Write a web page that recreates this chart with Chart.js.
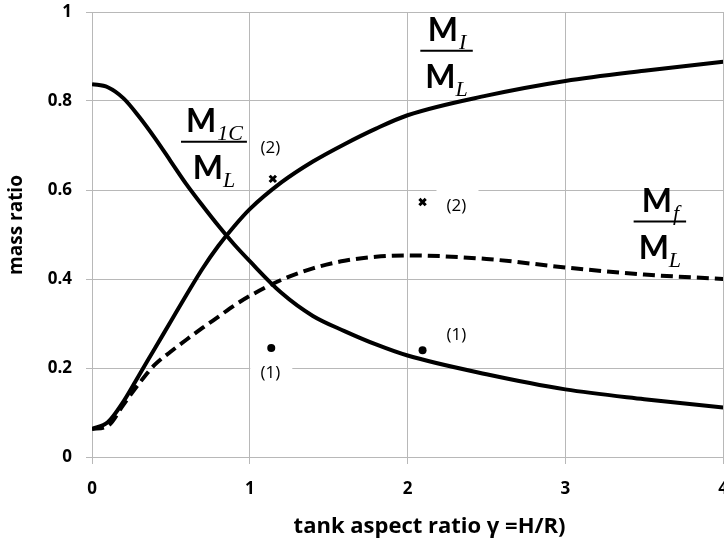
<!DOCTYPE html>
<html>
<head>
<meta charset="utf-8">
<script src="https://cdn.jsdelivr.net/npm/chart.js@4/dist/chart.umd.min.js"></script>
<style>
  html, body { margin: 0; padding: 0; overflow: hidden; background: #fff; }
  #wrap { position: relative; width: 743px; height: 542px; }
</style>
</head>
<body>
<div id="wrap"><canvas id="c"></canvas></div>
<script>
// ---- data ----
const gamma = [0, 0.1, 0.2, 0.3, 0.4, 0.5, 0.6, 0.7, 0.8, 0.9, 1.0, 1.2, 1.4, 1.6, 1.8, 2.0, 2.5, 3.0, 3.5, 4.0];
const ratioI  = [0.063, 0.078, 0.125, 0.185, 0.245, 0.305, 0.365, 0.423, 0.474, 0.518, 0.557, 0.617, 0.664, 0.703, 0.738, 0.768, 0.812, 0.845, 0.868, 0.888];
const ratio1C = [0.838, 0.831, 0.806, 0.764, 0.716, 0.664, 0.612, 0.565, 0.520, 0.478, 0.440, 0.369, 0.317, 0.283, 0.253, 0.228, 0.186, 0.152, 0.130, 0.111];
const ratioF  = [0.063, 0.070, 0.118, 0.166, 0.208, 0.237, 0.264, 0.290, 0.315, 0.340, 0.362, 0.398, 0.424, 0.441, 0.450, 0.453, 0.445, 0.426, 0.410, 0.400];
const crossX = [1.146, 2.095];
const crossY = [0.625, 0.573];
const dotX = [1.136, 2.095];
const dotY = [0.245, 0.240];
const xTickLabels = ['0', '1', '2', '3', '4'];
const yTickLabels = ['0', '0.2', '0.4', '0.6', '0.8', '1'];
const xTitle = '\u2003\u2003tank aspect ratio γ =H/R)';
const yTitle = '\u2003mass ratio';
// point labels: text and anchor in data units
const pointLabels = [
  { text: '(2)', x: 1.13, y: 0.694 },
  { text: '(2)', x: 2.31, y: 0.564 },
  { text: '(1)', x: 1.13, y: 0.189 },
  { text: '(1)', x: 2.31, y: 0.274 }
];
// curve labels: fraction M_sub / M_L, anchored at fraction bar centre
const curveLabels = [
  { num: 'M', numSub: '1C', den: 'M', denSub: 'L', x: 0.773, y: 0.7085 },
  { num: 'M', numSub: 'I',  den: 'M', denSub: 'L', x: 2.247, y: 0.913 },
  { num: 'M', numSub: 'f',  den: 'M', denSub: 'L', x: 3.599, y: 0.529 }
];

const GRID = '#b8b8b8';
const mk = (xs, ys) => xs.map((x, i) => ({ x: x, y: ys[i] }));

const annot = {
  id: 'annot',
  beforeDatasetsDraw(chart) {
    const { ctx, scales: { x, y } } = chart;
    ctx.save();
    ctx.fillStyle = '#fff';
    pointLabels.forEach(l => {
      const px = x.getPixelForValue(l.x), py = y.getPixelForValue(l.y);
      ctx.fillRect(px - 20, py - 18, 42, 35);
    });
    ctx.restore();
  },
  afterDatasetsDraw(chart) {
    const { ctx, scales: { x, y } } = chart;
    ctx.save();
    ctx.fillStyle = '#000';
    ctx.font = '17px "Open Sans"';
    ctx.textAlign = 'center';
    ctx.textBaseline = 'middle';
    pointLabels.forEach(l => {
      ctx.fillText(l.text, x.getPixelForValue(l.x), y.getPixelForValue(l.y));
    });
    const mainFont = '700 32px Lato';
    const subFont = 'italic 22px "Liberation Serif"';
    const partW = (m, s) => {
      ctx.font = mainFont; const a = ctx.measureText(m).width;
      ctx.font = subFont; const b = ctx.measureText(s).width;
      return [a, b];
    };
    curveLabels.forEach(l => {
      const cx = x.getPixelForValue(l.x), cy = y.getPixelForValue(l.y);
      const [na, nb] = partW(l.num, l.numSub);
      const [da, db] = partW(l.den, l.denSub);
      const nw = na + nb, dw = da + db;
      const half = Math.max(nw, dw) / 2 + 5;
      ctx.textAlign = 'left';
      ctx.textBaseline = 'alphabetic';
      let sx = cx - nw / 2;
      ctx.font = mainFont; ctx.fillText(l.num, sx, cy - 10);
      ctx.font = subFont; ctx.fillText(l.numSub, sx + na + 1, cy - 2);
      ctx.beginPath();
      ctx.lineWidth = 2;
      ctx.strokeStyle = '#000';
      ctx.moveTo(cx - half, cy); ctx.lineTo(cx + half, cy);
      ctx.stroke();
      sx = cx - dw / 2;
      ctx.font = mainFont; ctx.fillText(l.den, sx, cy + 37);
      ctx.font = subFont; ctx.fillText(l.denSub, sx + da, cy + 45);
    });
    ctx.restore();
  }
};

new Chart(document.getElementById('c'), {
  type: 'scatter',
  data: {
    datasets: [
      { type: 'line', data: mk(gamma, ratioI), borderColor: '#000', borderWidth: 4, pointRadius: 0, cubicInterpolationMode: 'monotone', fill: false },
      { type: 'line', data: mk(gamma, ratio1C), borderColor: '#000', borderWidth: 4, pointRadius: 0, cubicInterpolationMode: 'monotone', fill: false },
      { type: 'line', data: mk(gamma, ratioF), borderColor: '#000', borderWidth: 4, borderDash: [12, 6], pointRadius: 0, cubicInterpolationMode: 'monotone', fill: false },
      { data: mk(crossX, crossY), pointStyle: 'crossRot', pointRadius: 4.5, borderWidth: 3, borderColor: '#000', backgroundColor: '#000' },
      { data: mk(dotX, dotY), pointStyle: 'circle', pointRadius: 4, borderWidth: 0, borderColor: '#000', backgroundColor: '#000' }
    ]
  },
  options: {
    responsive: true,
    maintainAspectRatio: false,
    animation: false,
    events: [],
    layout: { padding: { top: 0, left: 0, right: 0, bottom: 0 } },
    plugins: { legend: { display: false }, tooltip: { enabled: false } },
    scales: {
      x: {
        type: 'linear', min: 0, max: 4,
        afterFit: s => { s.height = 85; },
        ticks: {
          stepSize: 1, padding: 15, color: '#000',
          font: { family: 'Open Sans', weight: 'bold', size: 17 },
          callback: (v, i) => xTickLabels[i]
        },
        grid: { color: GRID, lineWidth: 1, tickLength: 7 },
        border: { color: GRID },
        title: { display: true, text: xTitle, color: '#000', font: { family: 'Open Sans', weight: 'bold', size: 22 }, padding: { top: 0, bottom: 2 } }
      },
      y: {
        type: 'linear', min: 0, max: 1,
        afterFit: s => { s.width = 92; s.paddingTop = 12; },
        ticks: {
          stepSize: 0.2, padding: 14, color: '#000',
          font: { family: 'Open Sans', weight: 'bold', size: 17 },
          callback: (v, i) => yTickLabels[i]
        },
        grid: { color: GRID, lineWidth: 1, tickLength: 6 },
        border: { color: GRID },
        title: { display: true, text: yTitle, color: '#000', font: { family: 'Open Sans', weight: 'bold', size: 19 }, padding: { top: 5, bottom: 0 } }
      }
    }
  },
  plugins: [annot]
});
</script>
</body>
</html>
